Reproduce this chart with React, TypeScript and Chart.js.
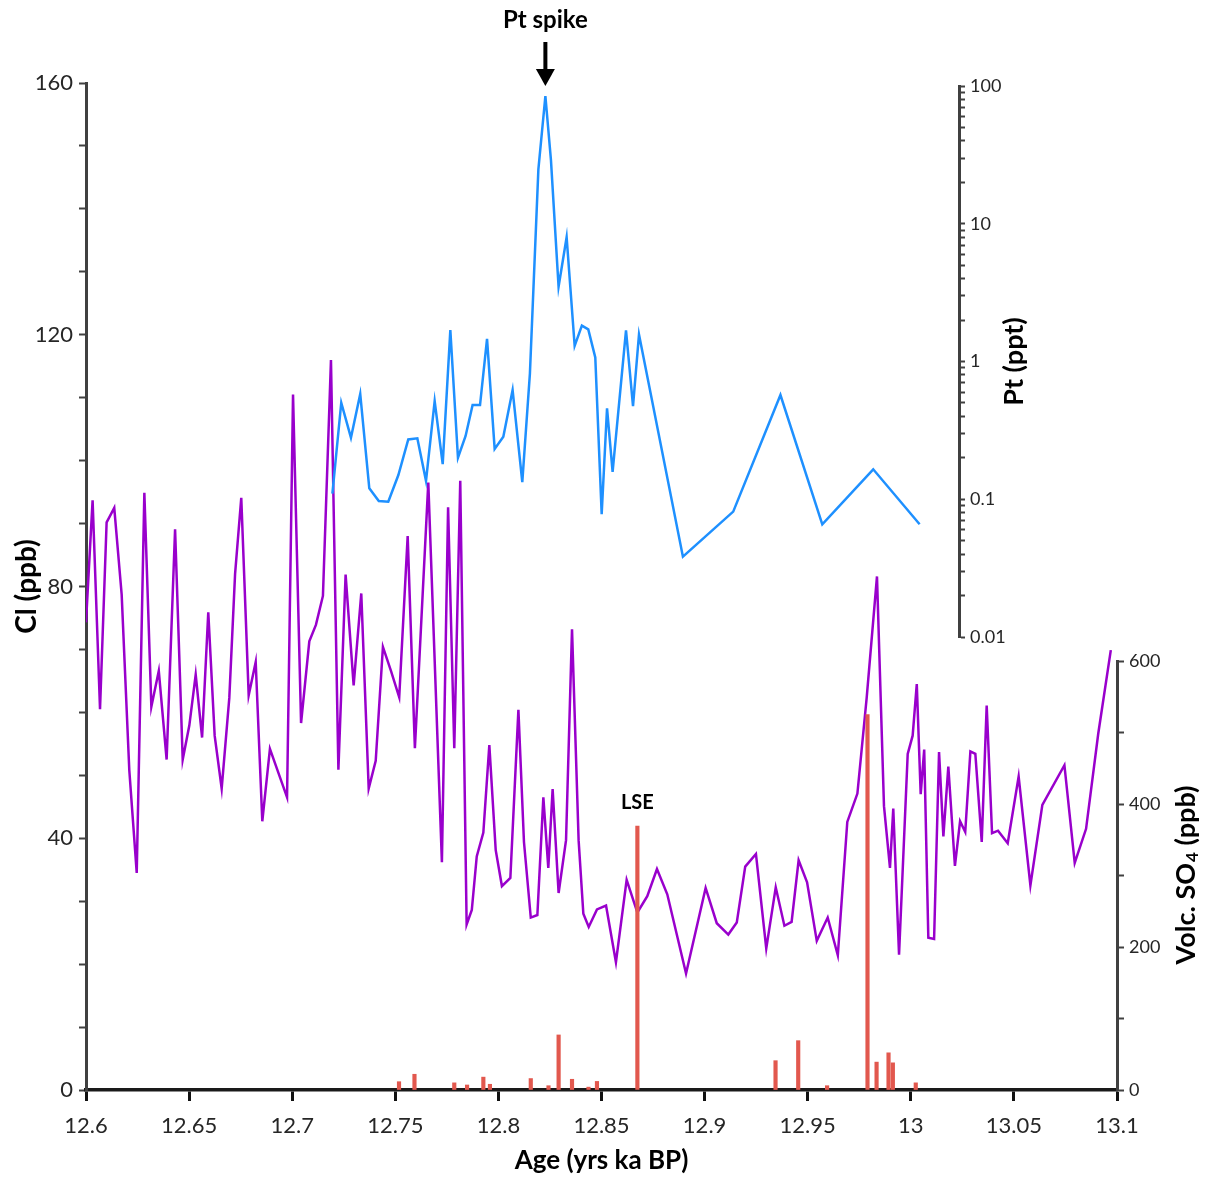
import React, { useEffect, useRef } from 'react';
import { Chart, registerables } from 'chart.js';

Chart.register(...registerables);

// ---------- data ----------
const AGE_TICKS = [12.6, 12.65, 12.7, 12.75, 12.8, 12.85, 12.9, 12.95, 13, 13.05, 13.1];
const CL_LABEL_TICKS = [0, 40, 80, 120, 160];
const PT_LABEL_TICKS = [0.01, 0.1, 1, 10, 100];
const SO4_LABEL_TICKS = [0, 200, 400, 600];

const CL_AGE = [
  12.6, 12.6032, 12.6068, 12.61, 12.6137, 12.6173, 12.621, 12.6246, 12.6283, 12.6317,
  12.6353, 12.6391, 12.6432, 12.6469, 12.6501, 12.6532, 12.6563, 12.6593, 12.6624, 12.6658,
  12.6695, 12.6723, 12.6753, 12.6789, 12.6823, 12.6855, 12.6892, 12.6975, 12.7004, 12.7043,
  12.7083, 12.7115, 12.7149, 12.7188, 12.7224, 12.7259, 12.7298, 12.7335, 12.7371, 12.7405,
  12.744, 12.7479, 12.7519, 12.756, 12.7595, 12.766, 12.7726, 12.7756, 12.7786, 12.7815,
  12.7846, 12.7871, 12.7895, 12.7927, 12.7956, 12.7987, 12.8017, 12.8058, 12.8097, 12.8124,
  12.8157, 12.8189, 12.8218, 12.8242, 12.8263, 12.8292, 12.8328, 12.8357, 12.8389, 12.8412,
  12.8438, 12.8478, 12.8522, 12.857, 12.8622, 12.8674, 12.8722, 12.8769, 12.8819, 12.891,
  12.9005, 12.9059, 12.9115, 12.9156, 12.9197, 12.9249, 12.9299, 12.9345, 12.9387, 12.9422,
  12.9456, 12.9497, 12.9544, 12.9597, 12.9646, 12.9692, 12.9741, 12.9786, 12.9836, 12.987,
  12.9899, 12.9915, 12.9943, 12.9985, 13.0009, 13.0029, 13.0048, 13.0065, 13.0085, 13.0113,
  13.0137, 13.0158, 13.0182, 13.0214, 13.0239, 13.0264, 13.0289, 13.0313, 13.0344, 13.0368,
  13.0394, 13.0423, 13.047, 13.0523, 13.058, 13.0638, 13.0745, 13.0795, 13.085, 13.0909,
  13.097,
];
const CL_PPB = [
  74.3, 93.7, 60.5, 90.2, 92.5, 78.7, 50.8, 34.5, 94.9, 60.9,
  66.6, 52.5, 89.1, 52.5, 57.9, 66.0, 56.0, 75.9, 56.3, 47.9,
  62.3, 82.0, 94.1, 62.7, 68.0, 42.7, 54.2, 46.5, 110.5, 58.3,
  71.3, 73.9, 78.5, 116.0, 50.9, 81.9, 64.3, 78.9, 47.9, 52.3,
  70.4, 66.6, 62.4, 88.0, 54.3, 96.5, 36.2, 92.6, 54.3, 96.8,
  26.3, 28.6, 37.1, 40.9, 54.8, 38.1, 32.4, 33.7, 60.4, 39.4,
  27.4, 27.8, 46.5, 35.3, 47.8, 31.3, 39.7, 73.2, 39.7, 28.0,
  25.9, 28.7, 29.3, 20.3, 33.4, 28.2, 30.8, 35.1, 31.1, 18.5,
  32.1, 26.5, 24.7, 26.6, 35.5, 37.5, 22.5, 32.2, 26.1, 26.7,
  36.5, 33.0, 23.7, 27.4, 21.4, 42.6, 47.1, 62.3, 81.6, 45.1,
  35.3, 44.7, 21.5, 53.4, 56.3, 64.5, 47.0, 54.1, 24.2, 24.0,
  53.7, 40.3, 51.4, 35.6, 42.7, 41.0, 53.8, 53.4, 39.4, 61.1,
  40.8, 41.2, 39.2, 49.8, 32.5, 45.3, 51.6, 36.1, 41.5, 56.6,
  69.9,
];

const PT_AGE = [
  12.7195, 12.7238, 12.7285, 12.733, 12.7374, 12.742, 12.7466, 12.7515, 12.7563, 12.7607,
  12.7649, 12.7691, 12.773, 12.7767, 12.7804, 12.7841, 12.7875, 12.7911, 12.7945, 12.7982,
  12.8024, 12.8069, 12.8116, 12.8153, 12.8194, 12.8228, 12.8255, 12.8292, 12.8331, 12.837,
  12.8405, 12.8436, 12.847, 12.8501, 12.8527, 12.8554, 12.8619, 12.8653, 12.8682, 12.8895,
  12.9139, 12.9368, 12.9571, 12.9818, 13.0043,
];
const PT_PPT = [
  0.11, 0.502, 0.28, 0.581, 0.12, 0.097, 0.096, 0.15, 0.272, 0.277,
  0.136, 0.516, 0.18, 1.69, 0.2, 0.288, 0.483, 0.483, 1.46, 0.232,
  0.284, 0.621, 0.133, 0.82, 24.8, 84.6, 29.0, 3.49, 7.98, 1.3,
  1.82, 1.71, 1.07, 0.078, 0.457, 0.158, 1.68, 0.475, 1.57, 0.0383,
  0.0813, 0.571, 0.0658, 0.165, 0.0658,
];

const SO4_AGE = [
  12.7518, 12.7593, 12.7786, 12.7848, 12.7927, 12.7959, 12.8157, 12.8243, 12.8292, 12.8357,
  12.8437, 12.8478, 12.8674, 12.9344, 12.9454, 12.9594, 12.979, 12.9834, 12.9892, 12.9913,
  13.0024,
];
const SO4_PPB = [
  11.6, 22, 10, 7, 18, 8, 16, 6, 77, 15,
  4, 12, 369, 41, 69, 6, 525, 39, 52, 38,
  10,
];

const LSE_AGE = 12.8674;

// ---------- layout / style ----------
const W = 1199;
const H = 1170;
const AGE_MIN = 12.6;
const AGE_MAX = 13.1;
const PT_AXIS_AGE = 13.0234; // age at which the Pt axis stands
const FONT = 'Lato, "Open Sans", "DejaVu Sans", sans-serif';
const AXIS = '#404040';
const TEXT = '#262626';

const near = (list: number[], v: number) => list.find((t) => Math.abs(t - v) <= Math.abs(t) * 1e-6 + 1e-9);

const mainAnnot = {
  id: 'mainAnnot',
  afterDraw(chart: any) {
    const { ctx } = chart;
    const xs = chart.scales.x;
    const so4 = chart.scales.so4;
    ctx.save();
    const li = SO4_AGE.indexOf(LSE_AGE);
    ctx.fillStyle = '#000';
    ctx.font = `bold 20px ${FONT}`;
    ctx.textAlign = 'center';
    ctx.textBaseline = 'middle';
    ctx.fillText('LSE', xs.getPixelForValue(LSE_AGE), so4.getPixelForValue(SO4_PPB[li]) - 24);

    const cx = so4.right - 21;
    const cy = (so4.top + so4.bottom) / 2;
    ctx.translate(cx, cy);
    ctx.rotate(-Math.PI / 2);
    const big = `bold 27px ${FONT}`;
    const small = `bold 17px ${FONT}`;
    const p1 = 'Volc. SO';
    const p2 = '4';
    const p3 = ' (ppb)';
    ctx.font = big;
    const w1 = ctx.measureText(p1).width;
    const w3 = ctx.measureText(p3).width;
    ctx.font = small;
    const w2 = ctx.measureText(p2).width;
    const x0 = -(w1 + w2 + w3) / 2;
    ctx.textAlign = 'left';
    ctx.font = big;
    ctx.fillText(p1, x0, 0);
    ctx.font = small;
    ctx.fillText(p2, x0 + w1 + 1, 7);
    ctx.font = big;
    ctx.fillText(p3, x0 + w1 + w2 + 1, 0);
    ctx.restore();
  },
};

const ptAnnot = {
  id: 'ptAnnot',
  afterDraw(chart: any) {
    const { ctx } = chart;
    const xs = chart.scales.x;
    const pt = chart.scales.pt;
    const i = PT_PPT.indexOf(Math.max(...PT_PPT));
    const px = xs.getPixelForValue(PT_AGE[i]);
    const tip = pt.getPixelForValue(PT_PPT[i]) - 10;
    ctx.save();
    ctx.fillStyle = '#000';
    ctx.beginPath();
    ctx.moveTo(px, tip);
    ctx.lineTo(px - 9.5, tip - 17);
    ctx.lineTo(px + 9.5, tip - 17);
    ctx.closePath();
    ctx.fill();
    ctx.fillRect(px - 2, tip - 44, 4, 28);
    ctx.font = `bold 24px ${FONT}`;
    ctx.textAlign = 'center';
    ctx.textBaseline = 'middle';
    ctx.fillText('Pt spike', px, tip - 66);

    ctx.font = `bold 27px ${FONT}`;
    ctx.translate(pt.right - 15, (pt.top + pt.bottom) / 2);
    ctx.rotate(-Math.PI / 2);
    ctx.fillText('Pt (ppt)', 0, 0);
    ctx.restore();
  },
};

export default function App() {
  const mainRef = useRef<HTMLCanvasElement>(null);
  const ptRef = useRef<HTMLCanvasElement>(null);

  useEffect(() => {
    const main = new Chart(mainRef.current as HTMLCanvasElement, {
      type: 'line',
      data: {
        datasets: [
          {
            type: 'bar',
            label: 'Volc. SO4',
            data: SO4_AGE.map((x, i) => ({ x, y: SO4_PPB[i] })),
            xAxisID: 'x',
            yAxisID: 'so4',
            backgroundColor: '#E2584E',
            borderWidth: 0,
            barThickness: 3.5,
            grouped: false,
            order: 0,
          } as any,
          {
            type: 'line',
            label: 'Cl',
            data: CL_AGE.map((x, i) => ({ x, y: CL_PPB[i] })),
            xAxisID: 'x',
            yAxisID: 'y',
            borderColor: '#9900CC',
            borderWidth: 2.5,
            pointRadius: 0,
            tension: 0,
            fill: false,
            order: 1,
          },
        ],
      },
      options: {
        responsive: false,
        animation: false,
        events: [],
        layout: { padding: { top: 75, left: 0, right: 0, bottom: 0 } },
        plugins: { legend: { display: false }, tooltip: { enabled: false } },
        scales: {
          x: {
            type: 'linear',
            min: AGE_MIN,
            max: AGE_MAX,
            offset: false,
            afterBuildTicks: (s: any) => {
              s.ticks = AGE_TICKS.map((v) => ({ value: v }));
            },
            afterFit: (s: any) => {
              s.height = 88;
            },
            grid: {
              display: true,
              drawOnChartArea: false,
              drawTicks: true,
              tickLength: 11,
              tickWidth: 3,
              tickColor: '#111',
              offset: false,
            },
            border: { display: true, color: '#1a1a1a', width: 3.5 },
            ticks: {
              autoSkip: false,
              maxRotation: 0,
              padding: 12,
              color: TEXT,
              font: { family: FONT, size: 22 },
              callback: (v: any) => String(parseFloat(Number(v).toFixed(2))),
            },
            title: {
              display: true,
              text: 'Age (yrs ka BP)',
              color: '#000',
              font: { family: FONT, size: 26, weight: 'bold' },
              padding: { top: 0, bottom: 2 },
            },
          },
          y: {
            type: 'linear',
            position: 'left',
            min: 0,
            max: 160,
            afterFit: (s: any) => {
              s.width = 78;
            },
            grid: { drawOnChartArea: false, drawTicks: true, tickLength: 7, tickWidth: 2, tickColor: AXIS },
            border: { display: true, color: AXIS, width: 3 },
            ticks: {
              stepSize: 10,
              autoSkip: false,
              padding: 6,
              color: TEXT,
              font: { family: FONT, size: 22 },
              callback: (v: any) => (near(CL_LABEL_TICKS, Number(v)) !== undefined ? String(v) : ''),
            },
            title: {
              display: true,
              text: 'Cl (ppb)',
              color: '#000',
              font: { family: FONT, size: 28, weight: 'bold' },
              padding: { top: 2, bottom: 0 },
            },
          },
          sp: {
            type: 'linear',
            position: 'right',
            stack: 'right',
            stackWeight: 578,
            min: 0,
            max: 1,
            grid: { display: false },
            border: { display: false },
            ticks: { display: false },
            afterFit: (s: any) => {
              s.width = 90;
            },
          },
          so4: {
            type: 'linear',
            position: 'right',
            stack: 'right',
            stackWeight: 429,
            min: 0,
            max: 600,
            afterFit: (s: any) => {
              s.width = 90;
            },
            grid: { drawOnChartArea: false, drawTicks: true, tickLength: 7, tickWidth: 2, tickColor: AXIS },
            border: { display: true, color: AXIS, width: 3 },
            ticks: {
              stepSize: 100,
              autoSkip: false,
              padding: 5,
              color: TEXT,
              font: { family: FONT, size: 18 },
              callback: (v: any) => (near(SO4_LABEL_TICKS, Number(v)) !== undefined ? String(v) : ''),
            },
          },
        },
      } as any,
      plugins: [mainAnnot],
    });

    const pt = new Chart(ptRef.current as HTMLCanvasElement, {
      type: 'line',
      data: {
        datasets: [
          {
            label: 'Pt',
            data: PT_AGE.map((x, i) => ({ x, y: PT_PPT[i] })),
            xAxisID: 'x',
            yAxisID: 'pt',
            borderColor: '#1E90FF',
            borderWidth: 2.5,
            pointRadius: 0,
            tension: 0,
            fill: false,
          },
        ],
      },
      options: {
        responsive: false,
        animation: false,
        events: [],
        layout: { padding: { left: 78, top: 78, right: 178, bottom: 541 } },
        plugins: { legend: { display: false }, tooltip: { enabled: false } },
        scales: {
          x: { type: 'linear', display: false, min: AGE_MIN, max: PT_AXIS_AGE },
          pt: {
            type: 'logarithmic',
            position: 'right',
            min: 0.01,
            max: 100,
            afterBuildTicks: (s: any) => {
              const t: { value: number }[] = [];
              for (let e = -2; e <= 1; e++) {
                for (let m = 1; m <= 9; m++) t.push({ value: m * Math.pow(10, e) });
              }
              t.push({ value: 100 });
              s.ticks = t;
            },
            afterFit: (s: any) => {
              s.width = 70;
            },
            grid: { drawOnChartArea: false, drawTicks: true, tickLength: 6, tickWidth: 2, tickColor: AXIS },
            border: { display: true, color: AXIS, width: 3 },
            ticks: {
              autoSkip: false,
              padding: 5,
              color: TEXT,
              font: { family: FONT, size: 18 },
              callback: (v: any) => {
                const t = near(PT_LABEL_TICKS, Number(v));
                return t !== undefined ? String(t) : '';
              },
            },
          },
        },
      } as any,
      plugins: [ptAnnot],
    });

    return () => {
      main.destroy();
      pt.destroy();
    };
  }, []);

  return (
    <div style={{ position: 'relative', width: W, height: H }}>
      <canvas ref={mainRef} width={W} height={H} style={{ position: 'absolute', left: 0, top: 0 }} />
      <canvas
        ref={ptRef}
        width={W}
        height={H}
        style={{ position: 'absolute', left: 0, top: 0, pointerEvents: 'none' }}
      />
    </div>
  );
}
